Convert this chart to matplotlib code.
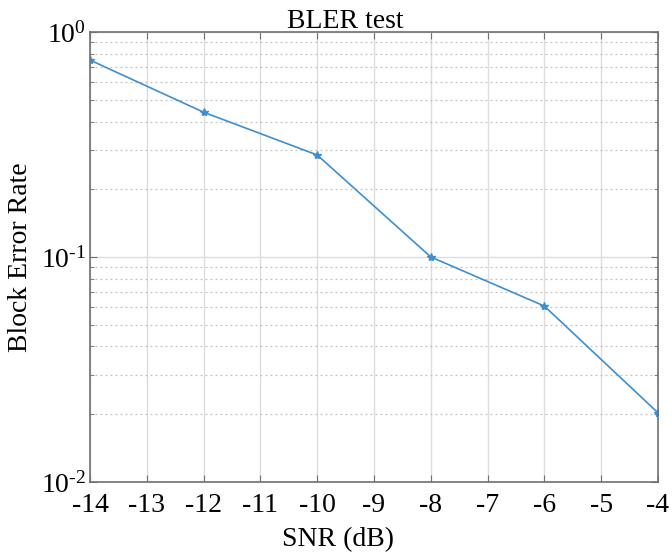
import numpy as np
import matplotlib
matplotlib.use("Agg")
import matplotlib.pyplot as plt
from matplotlib.ticker import LogLocator, FixedLocator

snr_db = [-14, -12, -10, -8, -6, -4]
bler = [0.75, 0.44, 0.284, 0.10, 0.0605, 0.0203]
x_ticks = list(range(-14, -3))
y_ticks = [1e-2, 1e-1, 1e0]
y_labels = [r'$\mathregular{10^{\text{-}2}}$', r'$\mathregular{10^{\text{-}1}}$',
            r'$\mathregular{10^{0}}$']

plt.rcParams['font.family'] = ['Liberation Serif', 'DejaVu Serif']
plt.rcParams['mathtext.fontset'] = 'custom'
plt.rcParams['mathtext.rm'] = 'Liberation Serif'

fig = plt.figure(figsize=(6.72, 5.52), dpi=100)
ax = fig.add_axes([0.134, 0.127, 0.845, 0.815])

ax.semilogy(snr_db, bler, color='#3d8fd0', lw=1.2, marker='*', ms=6,
            markeredgewidth=1.0)

ax.set_xlim(-14, -4)
ax.set_ylim(1e-2, 1e0)
ax.xaxis.set_major_locator(FixedLocator(x_ticks))
ax.set_xticklabels([str(t) for t in x_ticks])
ax.yaxis.set_major_locator(FixedLocator(y_ticks))
ax.set_yticklabels(y_labels)
ax.yaxis.set_minor_locator(LogLocator(base=10, subs=np.arange(2, 10), numticks=20))
ax.yaxis.set_minor_formatter(plt.NullFormatter())

ax.grid(True, which='major', color='#dcdcdc', lw=1.0, ls='-')
ax.grid(True, which='minor', axis='y', color='#c0c0c0', lw=0.9, ls=(0, (1.5, 2.5)))
ax.set_axisbelow(True)

for s in ax.spines.values():
    s.set_color('#707070')
    s.set_linewidth(1.2)
ax.tick_params(which='both', direction='in', top=True, right=True,
               colors='#707070', labelcolor='black', labelsize=20)
ax.tick_params(which='major', length=5)
ax.tick_params(which='minor', length=3)
ax.tick_params(axis='x', pad=8)
ax.tick_params(axis='y', pad=3)

ax.set_xlabel('SNR (dB)', fontsize=20)
ax.xaxis.set_label_coords(0.437, -0.1)
ax.set_ylabel('Block Error Rate', fontsize=20)
ax.yaxis.set_label_coords(-0.1, 0.5)
ax.set_title('BLER test', fontsize=20, x=0.45, y=1.0, pad=3)

fig.savefig('out.png', dpi=100)
